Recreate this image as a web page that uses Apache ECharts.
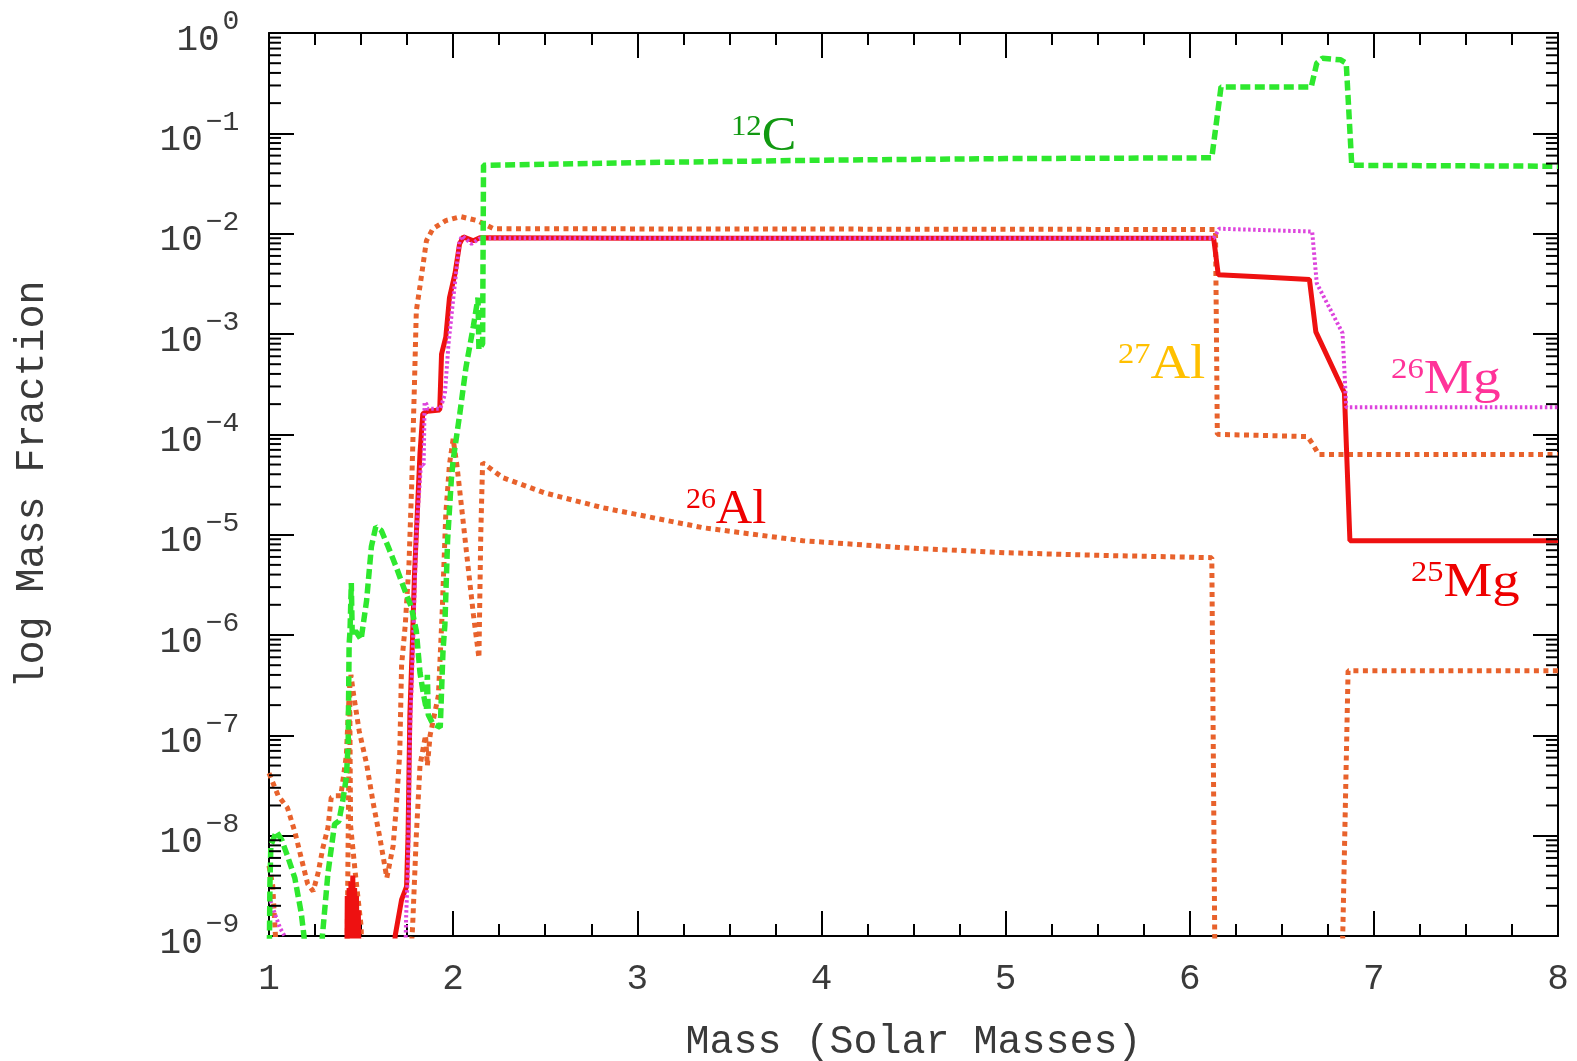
<!DOCTYPE html>
<html>
<head>
<meta charset="utf-8">
<script src="https://cdn.jsdelivr.net/npm/echarts@6/dist/echarts.min.js"></script>
<style>
html,body{margin:0;padding:0;background:#fff;}
#chart{width:1577px;height:1061px;}
</style>
</head>
<body>
<div id="chart"></div>
<script>
// ---- data: [mass (solar masses), mass fraction] ----
const c12 = [
  [1.0,3e-10],[1.005,3.2e-9],[1.01,8e-9],[1.04,1.1e-8],[1.07,9e-9],[1.10,6.3e-9],[1.14,3.8e-9],
  [1.175,1.7e-9],[1.19,1e-9],[1.21,2.5e-10],[1.27,2.5e-10],[1.29,1e-9],[1.32,4.2e-9],[1.356,1.3e-8],
  [1.38,1.4e-8],[1.40,2.2e-8],[1.42,3.8e-8],[1.43,8.3e-8],[1.435,8e-7],[1.44,1.1e-6],[1.447,3.3e-6],
  [1.452,1.0e-6],[1.47,1.1e-6],[1.50,9e-7],[1.53,2.2e-6],[1.556,7.6e-6],[1.58,1.2e-5],[1.61,1.1e-5],
  [1.647,7.6e-6],[1.69,4.8e-6],[1.737,2.8e-6],[1.773,1.9e-6],[1.80,1.1e-6],[1.82,4.2e-7],[1.84,2.5e-7],
  [1.855,1.8e-7],[1.86,4e-7],[1.865,1.6e-7],[1.89,1.3e-7],[1.93,1.2e-7],[1.945,7e-7],[1.955,1.26e-6],
  [1.97,8.9e-6],[1.99,3.5e-5],[2.0,5.5e-5],[2.036,1.6e-4],[2.07,4.7e-4],[2.11,1.2e-3],[2.135,2.3e-3],
  [2.14,7e-4],[2.16,8e-4],[2.165,4.8e-2],[3.0,5.1e-2],[4.0,5.4e-2],[5.0,5.6e-2],[6.12,5.7e-2],
  [6.17,0.29],[6.66,0.29],[6.69,0.5],[6.72,0.56],[6.82,0.54],[6.85,0.5],[6.88,0.048],[8.0,0.047]
];
const mg25 = [
  [1.0,1e-10],[1.42,1e-10],[1.425,2.5e-9],[1.43,6e-10],[1.435,3e-9],[1.44,6e-10],[1.445,3.5e-9],
  [1.45,6.3e-10],[1.455,4e-9],[1.46,6.3e-10],[1.465,3e-9],[1.47,6.3e-10],[1.475,2.5e-9],[1.48,6e-10],
  [1.485,1.8e-9],[1.49,5e-10],[1.68,5e-10],[1.685,1e-9],[1.72,2.3e-9],[1.747,3.1e-9],
  [1.755,1e-8],[1.765,1.6e-7],[1.78,1e-6],[1.79,4e-6],[1.80,1e-5],[1.82,6.5e-5],[1.835,1.6e-4],
  [1.86,1.7e-4],[1.927,1.75e-4],[1.937,6.3e-4],[1.96,9.3e-4],[1.98,2.3e-3],[2.01,4e-3],[2.035,7.9e-3],
  [2.055,9.3e-3],[2.11,8.5e-3],[2.145,9.1e-3],[3.0,9.0e-3],[6.13,9.0e-3],[6.155,3.9e-3],[6.4,3.7e-3],
  [6.65,3.5e-3],[6.685,1.05e-3],[6.84,2.6e-4],[6.87,8.7e-6],[8.0,8.7e-6]
];
const mg26 = [
  [1.0,2.5e-9],[1.03,1.7e-9],[1.06,1.2e-9],[1.085,1e-9],[1.09,1e-10],[1.73,1e-10],[1.745,1.6e-9],
  [1.755,5e-9],[1.765,1e-7],[1.78,6.3e-7],[1.80,1e-5],[1.825,5e-5],[1.84,5e-5],[1.845,2.1e-4],
  [1.855,2e-4],[1.86,1.8e-4],[1.93,1.8e-4],[1.955,2.5e-4],[1.975,8e-4],[2.0,2.2e-3],[2.035,8.5e-3],
  [2.05,9.5e-3],[2.1,7.9e-3],[2.14,8.9e-3],[2.16,9.0e-3],[6.13,9.0e-3],[6.16,1.12e-2],[6.665,1.05e-2],
  [6.69,3.2e-3],[6.83,1.02e-3],[6.85,1.86e-4],[8.0,1.86e-4]
];
const al27 = [
  [1.0,4.2e-8],[1.05,2.5e-8],[1.10,1.9e-8],[1.14,1.1e-8],[1.175,6e-9],[1.21,3.3e-9],[1.24,2.8e-9],
  [1.266,4.2e-9],[1.293,7.6e-9],[1.32,1.2e-8],[1.338,2.4e-8],[1.36,2.5e-8],[1.39,2.5e-8],[1.42,6.3e-8],
  [1.435,2.5e-7],[1.445,4e-7],[1.46,2.5e-7],[1.49,1.1e-7],[1.53,5.2e-8],[1.566,2.1e-8],[1.60,1e-8],
  [1.64,3.8e-9],[1.674,7.9e-9],[1.69,1.8e-8],[1.71,6.6e-8],[1.72,5e-7],[1.74,1.26e-6],[1.76,5e-6],
  [1.775,3.2e-5],[1.79,3.2e-4],[1.80,1.7e-3],[1.82,3e-3],[1.855,8.5e-3],[1.89,1.12e-2],[1.96,1.35e-2],
  [2.04,1.48e-2],[2.13,1.35e-2],[2.22,1.12e-2],[6.14,1.1e-2],[6.15,1e-4],[6.64,9.5e-5],[6.67,7.9e-5],
  [6.70,6.3e-5],[8.0,6.3e-5]
];
const al26 = [
  [1.0,5e-9],[1.02,3.2e-9],[1.035,1e-9],[1.05,1e-10],[1.42,1e-10],[1.43,1e-8],[1.438,3.2e-7],
  [1.443,1.26e-8],[1.47,4e-9],[1.50,1.26e-9],[1.51,3e-10],[1.76,3e-10],[1.78,1.26e-9],[1.80,1e-8],
  [1.82,5e-8],[1.85,1e-7],[1.86,5e-8],[1.875,1e-7],[1.92,2.5e-7],[1.94,1.6e-6],[1.96,1.6e-5],
  [1.98,5e-5],[2.0,9e-5],[2.02,5e-5],[2.05,1.6e-5],[2.08,5e-6],[2.11,1.6e-6],[2.14,5.9e-7],[2.15,1e-5],
  [2.16,5.2e-5],[2.27,3.7e-5],[2.5,2.6e-5],[2.81,1.86e-5],[3.36,1.17e-5],[3.9,8.7e-6],[4.45,7.4e-6],
  [5.0,6.6e-6],[5.55,6.2e-6],[6.12,5.9e-6],[6.14,1e-10],[6.82,1e-10],[6.86,4.4e-7],[8.0,4.4e-7]
];
// axis settings
const xTicks = [1,2,3,4,5,6,7,8];
const yDecades = [-9,-8,-7,-6,-5,-4,-3,-2,-1,0];
const yMinorMultipliers = [2,3,4,5,6,7,8,9];

const minorTicks = [];
yDecades.slice(0,-1).forEach(e => yMinorMultipliers.forEach(m => minorTicks.push([1, m * Math.pow(10, e)])));

const mono = "'Liberation Mono', 'DejaVu Sans Mono', monospace";
const serif = "'Liberation Serif', 'DejaVu Serif', serif";
const AX = '#000';
const TXT = '#3a3a3a';

function yLabel(v){
  const e = Math.round(Math.log10(v));
  const s = e < 0 ? '\u2212' + (-e) : String(e);
  return '{b|10}{s|' + s + '}{h| }';
}

const chart = echarts.init(document.getElementById('chart'), null, {renderer:'canvas'});

function iso(sup, base, color, x, y, sx){
  return {
    type:'text', x:x, y:y, z:100, scaleX:sx, scaleY:1,
    style:{
      text:'{s|' + sup + '}{b|' + base + '}',
      align:'left', verticalAlign:'top',
      rich:{
        s:{fontFamily:serif, fontSize:29, lineHeight:29, fill:color, verticalAlign:'top'},
        b:{fontFamily:serif, fontSize:49, lineHeight:49, fill:color, verticalAlign:'bottom'}
      }
    }
  };
}

const option = {
  animation:false,
  backgroundColor:'#fff',
  grid:{left:269, right:19, top:33, bottom:125, containLabel:false, outerBoundsMode:'none'},
  xAxis:[{
    type:'value', min:1, max:8, interval:1, position:'bottom',
    name:'Mass (Solar Masses)', nameLocation:'middle', nameGap:86,
    nameTextStyle:{fontFamily:mono, fontSize:40, color:TXT},
    axisLine:{show:true, lineStyle:{color:AX, width:2}},
    axisTick:{show:true, inside:true, length:25, lineStyle:{color:AX, width:2}},
    minorTick:{show:true, splitNumber:4, length:12, lineStyle:{color:AX, width:2}},
    axisLabel:{fontFamily:mono, fontSize:36, color:TXT, margin:25,
      formatter:v => xTicks.indexOf(Math.round(v)) >= 0 ? String(Math.round(v)) : ''},
    splitLine:{show:false}
  },{
    type:'value', min:1, max:8, interval:1, position:'top',
    axisLine:{show:true, lineStyle:{color:AX, width:2}},
    axisTick:{show:true, inside:true, length:25, lineStyle:{color:AX, width:2}},
    minorTick:{show:true, splitNumber:4, length:12, lineStyle:{color:AX, width:2}},
    axisLabel:{show:false}, splitLine:{show:false}
  }],
  yAxis:[{
    type:'log', logBase:10, min:1e-9, max:1, splitNumber:9, position:'left',
    name:'log Mass Fraction', nameLocation:'middle', nameGap:217, nameRotate:90,
    nameTextStyle:{fontFamily:mono, fontSize:40, color:TXT},
    axisLine:{show:true, lineStyle:{color:AX, width:2}},
    axisTick:{show:true, inside:true, length:25, lineStyle:{color:AX, width:2}},
    axisLabel:{margin:29, formatter:yLabel,
      rich:{
        b:{fontFamily:mono, fontSize:36, lineHeight:36, color:TXT, verticalAlign:'bottom'},
        s:{fontFamily:mono, fontSize:28, lineHeight:28, color:TXT, verticalAlign:'top', padding:[0,0,0,3]},
        h:{fontFamily:mono, fontSize:1, lineHeight:50, verticalAlign:'middle'}
      }},
    splitLine:{show:false}
  },{
    type:'log', logBase:10, min:1e-9, max:1, splitNumber:9, position:'right',
    axisLine:{show:true, lineStyle:{color:AX, width:2}},
    axisTick:{show:true, inside:true, length:25, lineStyle:{color:AX, width:2}},
    axisLabel:{show:false}, splitLine:{show:false}
  }],
  series:[
    {name:'26Al', type:'line', data:al26, symbol:'none', clip:true, z:2,
      lineStyle:{color:'#e8622c', width:5, type:[5,4.5]}},
    {name:'27Al', type:'line', data:al27, symbol:'none', clip:true, z:2,
      lineStyle:{color:'#e8622c', width:5, type:[5,4.5]}},
    {name:'25Mg', type:'line', data:mg25, symbol:'none', clip:true, z:3,
      lineStyle:{color:'#ee1111', width:5, type:'solid'}},
    {name:'26Mg', type:'line', data:mg26, symbol:'none', clip:true, z:4,
      lineStyle:{color:'#dd44dd', width:4, type:[2.5,2.5]}},
    {name:'12C', type:'line', data:c12, symbol:'none', clip:true, z:5,
      lineStyle:{color:'#2ee82e', width:5.5, type:[10,4.5]}},
    {name:'minor', type:'custom', data:minorTicks, silent:true, clip:false, z:10,
      renderItem:function(params, api){
        const v = api.value(1);
        const pL = api.coord([1, v]);
        const pR = api.coord([8, v]);
        return {type:'group', children:[
          {type:'line', shape:{x1:pL[0], y1:pL[1], x2:pL[0]+12, y2:pL[1]}, style:{stroke:AX, lineWidth:2}},
          {type:'line', shape:{x1:pR[0], y1:pR[1], x2:pR[0]-12, y2:pR[1]}, style:{stroke:AX, lineWidth:2}}
        ]};
      }}
  ],
  graphic:[
    iso('12','C','#119911',731,113,1.06),
    iso('27','Al','#ffc000',1118,341,1.12),
    iso('26','Mg','#ff3399',1391,356,1.13),
    iso('26','Al','#ee0000',686,486,1.03),
    iso('25','Mg','#ee0000',1411,559,1.12)
  ]
};
chart.setOption(option);
</script>
</body>
</html>
